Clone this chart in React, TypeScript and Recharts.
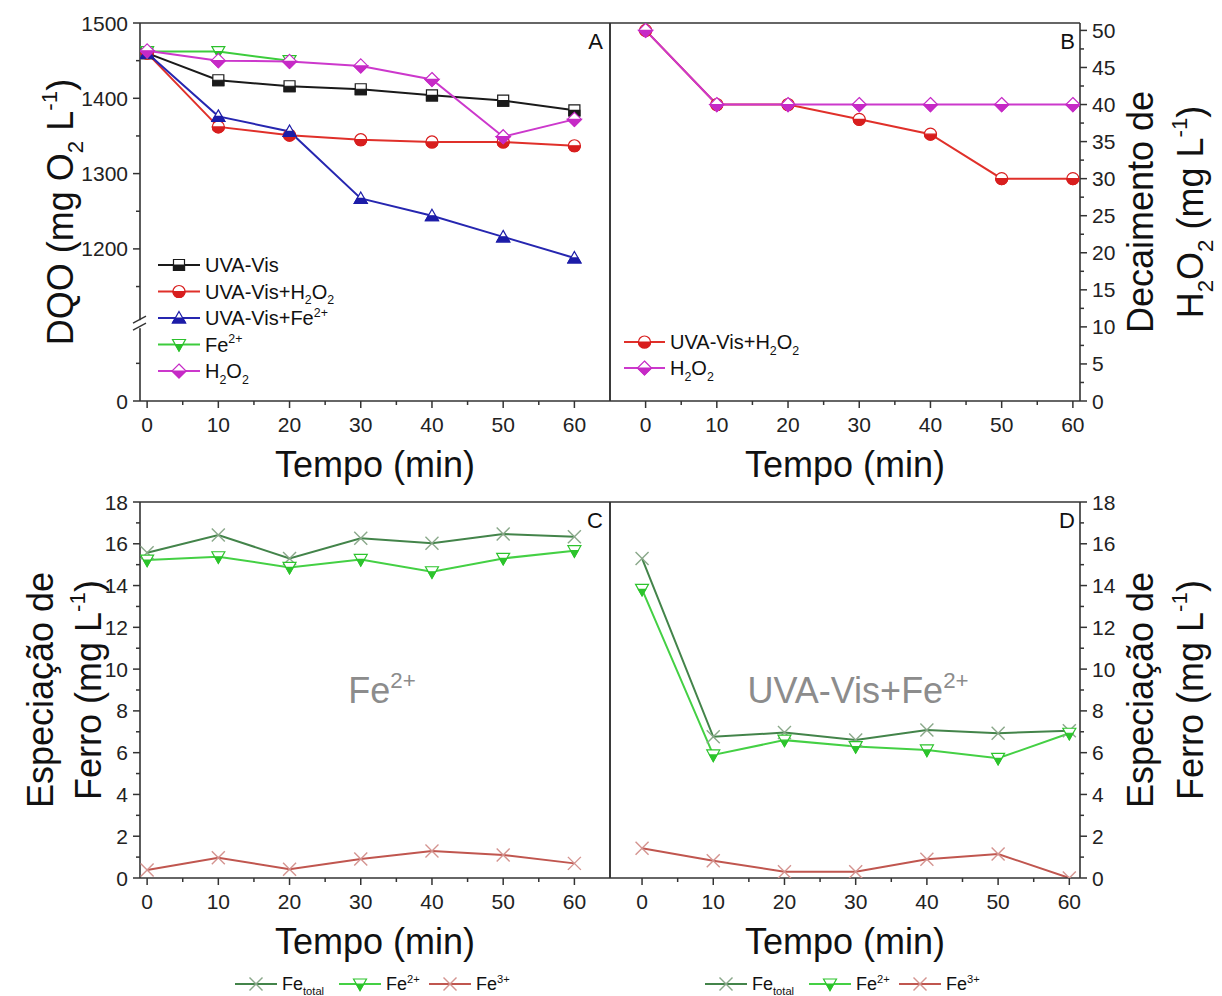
import React from "react";
import { LineChart, Line, XAxis, YAxis, ReferenceLine } from "recharts";

const FONT = "'Liberation Sans', Arial, Helvetica, sans-serif";
const INK = "#333333";

// sampling times (min)
const tempo = [0, 10, 20, 30, 40, 50, 60];

// A - DQO (mg O2 L-1)
const dqoUvaVis = [1460, 1424, 1416, 1412, 1404, 1397, 1384];
const dqoUvaVisH2O2 = [1460, 1362, 1351, 1345, 1342, 1342, 1337];
const dqoUvaVisFe = [1460, 1376, 1356, 1267, 1244, 1216, 1188];
const dqoFe = [1462, 1462, 1450, null, null, null, null];
const dqoH2O2 = [1463, 1450, 1449, 1443, 1425, 1349, 1372];

// B - H2O2 decay (mg L-1)
const h2o2UvaVis = [50, 40, 40, 38, 36, 30, 30];
const h2o2Only = [50, 40, 40, 40, 40, 40, 40];

// C - iron speciation, Fe2+ only
const cFeTotal = [15.57, 16.42, 15.3, 16.26, 16.02, 16.47, 16.34];
const cFe2 = [15.22, 15.38, 14.87, 15.25, 14.66, 15.3, 15.67];
const cFe3 = [0.38, 0.97, 0.42, 0.91, 1.29, 1.1, 0.7];

// D - iron speciation, UVA-Vis+Fe2+
const dFeTotal = [15.3, 6.76, 6.96, 6.61, 7.08, 6.93, 7.05];
const dFe2 = [13.82, 5.89, 6.6, 6.29, 6.13, 5.73, 6.93];
const dFe3 = [1.42, 0.83, 0.3, 0.3, 0.9, 1.15, 0];

// ticks
const tempoMajor = [0, 10, 20, 30, 40, 50, 60];
const tempoMinor = [5, 15, 25, 35, 45, 55];
const dqoMajor = [1200, 1300, 1400, 1500];
const dqoMinor = [1150, 1250, 1350, 1450];
// the DQO axis is broken at 1100; its bottom end is printed as "0"
const dqoBreak = 1100;
const dqoZero = 998;
const dqoLowMinor = [1048];
const h2o2Major = [0, 5, 10, 15, 20, 25, 30, 35, 40, 45, 50];
const h2o2Minor = [2.5, 7.5, 12.5, 17.5, 22.5, 27.5, 32.5, 37.5, 42.5, 47.5];
const feMajor = [0, 2, 4, 6, 8, 10, 12, 14, 16, 18];
const feMinor = [1, 3, 5, 7, 9, 11, 13, 15, 17];

type Seg = [string, ("sub" | "sup")?];
type Shape = "square" | "circle" | "triangle" | "triangleDown" | "diamond" | "cross";
type Series = { key: string; label: Seg[]; color: string; mark: string; shape: Shape; values: (number | null)[] };

const lblUvaVis: Seg[] = [["UVA-Vis"]];
const lblUvaVisH2O2: Seg[] = [["UVA-Vis+H"], ["2", "sub"], ["O"], ["2", "sub"]];
const lblUvaVisFe: Seg[] = [["UVA-Vis+Fe"], ["2+", "sup"]];
const lblFe2: Seg[] = [["Fe"], ["2+", "sup"]];
const lblH2O2: Seg[] = [["H"], ["2", "sub"], ["O"], ["2", "sub"]];
const lblFeTotal: Seg[] = [["Fe"], ["total", "sub"]];
const lblFe3: Seg[] = [["Fe"], ["3+", "sup"]];

const seriesA: Series[] = [
  { key: "uv", label: lblUvaVis, color: "#1a1a1a", mark: "#1a1a1a", shape: "square", values: dqoUvaVis },
  { key: "uvh", label: lblUvaVisH2O2, color: "#e0302a", mark: "#d81e1e", shape: "circle", values: dqoUvaVisH2O2 },
  { key: "uvf", label: lblUvaVisFe, color: "#2626b0", mark: "#1c1ca8", shape: "triangle", values: dqoUvaVisFe },
  { key: "fe", label: lblFe2, color: "#3ccc3c", mark: "#2cc02c", shape: "triangleDown", values: dqoFe },
  { key: "h", label: lblH2O2, color: "#cc38cc", mark: "#c62ac6", shape: "diamond", values: dqoH2O2 },
];

const seriesB: Series[] = [
  { key: "uvh", label: lblUvaVisH2O2, color: "#e0302a", mark: "#d81e1e", shape: "circle", values: h2o2UvaVis },
  { key: "h", label: lblH2O2, color: "#cc38cc", mark: "#c62ac6", shape: "diamond", values: h2o2Only },
];

const ironSeries = (tot: number[], fe2: number[], fe3: number[]): Series[] => [
  { key: "tot", label: lblFeTotal, color: "#43844a", mark: "#8aa88a", shape: "cross", values: tot },
  { key: "fe2", label: lblFe2, color: "#44d044", mark: "#2cc42c", shape: "triangleDown", values: fe2 },
  { key: "fe3", label: lblFe3, color: "#c0564f", mark: "#d49490", shape: "cross", values: fe3 },
];
const seriesC = ironSeries(cFeTotal, cFe2, cFe3);
const seriesD = ironSeries(dFeTotal, dFe2, dFe3);

function rich(segs: Seg[], fs: number) {
  let cur = 0;
  return segs.map(([t, k], i) => {
    const target = k === "sub" ? fs * 0.28 : k === "sup" ? -fs * 0.42 : 0;
    const dy = target - cur;
    cur = target;
    return (
      <tspan key={i} dy={dy} fontSize={k ? fs * 0.62 : fs}>
        {t}
      </tspan>
    );
  });
}

const polys: Record<string, [number, number][]> = {
  square: [[-5.5, -5.5], [5.5, -5.5], [5.5, 5.5], [-5.5, 5.5]],
  triangle: [[0, -6.5], [6.5, 5], [-6.5, 5]],
  triangleDown: [[-6.5, -5], [6.5, -5], [0, 6.5]],
  diamond: [[0, -7], [7, 0], [0, 7], [-7, 0]],
};

function lowerHalf(pts: [number, number][]) {
  const out: [number, number][] = [];
  for (let i = 0; i < pts.length; i++) {
    const a = pts[i];
    const b = pts[(i + 1) % pts.length];
    const ain = a[1] >= 0;
    const bin = b[1] >= 0;
    if (ain) out.push(a);
    if (ain !== bin) {
      const t = (0 - a[1]) / (b[1] - a[1]);
      out.push([a[0] + t * (b[0] - a[0]), 0]);
    }
  }
  return out;
}

const toPath = (pts: [number, number][], cx: number, cy: number) =>
  "M" + pts.map(([x, y]) => `${cx + x},${cy + y}`).join("L") + "Z";

function Marker({ cx, cy, shape, color }: { cx?: number; cy?: number; shape: Shape; color: string }) {
  if (cx == null || cy == null || isNaN(cx) || isNaN(cy)) return <g />;
  if (shape === "cross") {
    const s = 6.5;
    return (
      <g stroke={color} strokeWidth={1.4}>
        <line x1={cx - s} y1={cy - s} x2={cx + s} y2={cy + s} />
        <line x1={cx - s} y1={cy + s} x2={cx + s} y2={cy - s} />
      </g>
    );
  }
  if (shape === "circle") {
    const r = 6;
    return (
      <g>
        <circle cx={cx} cy={cy} r={r} fill="#fff" stroke={color} strokeWidth={1.2} />
        <path d={`M${cx - r},${cy}A${r},${r} 0 0,0 ${cx + r},${cy}Z`} fill={color} stroke={color} strokeWidth={1.2} />
      </g>
    );
  }
  const pts = polys[shape];
  return (
    <g>
      <path d={toPath(pts, cx, cy)} fill="#fff" stroke={color} strokeWidth={1.2} />
      <path d={toPath(lowerHalf(pts), cx, cy)} fill={color} stroke={color} strokeWidth={1.2} />
    </g>
  );
}

function makeTick(orient: "bottom" | "left" | "right", majors: number[], label: (v: number) => string = String) {
  return (props: any) => {
    const { x, y, payload, index } = props;
    const v = payload.value;
    const major = majors.includes(v);
    const len = major ? 7 : 4;
    const txt = { fontSize: 21, fill: "#222", fontFamily: FONT } as const;
    if (orient === "bottom") {
      return (
        <g key={`b${index}`}>
          <line x1={x} x2={x} y1={y} y2={y + len} stroke={INK} strokeWidth={1.5} />
          {major && (
            <text x={x} y={y + 31} textAnchor="middle" {...txt}>
              {label(v)}
            </text>
          )}
        </g>
      );
    }
    const dir = orient === "left" ? -1 : 1;
    return (
      <g key={`y${index}`}>
        <line x1={x} x2={x + dir * len} y1={y} y2={y} stroke={INK} strokeWidth={1.5} />
        {major && (
          <text x={x + dir * 12} y={y + 7.5} textAnchor={orient === "left" ? "end" : "start"} {...txt}>
            {label(v)}
          </text>
        )}
      </g>
    );
  };
}

const xTick = makeTick("bottom", tempoMajor);

type PanelProps = {
  left: number;
  top: number;
  width: number;
  height: number;
  margin: { top: number; right: number; bottom: number; left: number };
  xDomain: [number, number];
  yDomain: [number, number];
  yTicks: number[];
  yMajor: number[];
  yLabel?: (v: number) => string;
  yOrient: "left" | "right";
  yWidth: number;
  xHeight: number;
  series: Series[];
};

function Panel(p: PanelProps) {
  const rows = tempo.map((t, i) => {
    const r: Record<string, number | null> = { t };
    p.series.forEach((s) => (r[s.key] = s.values[i]));
    return r;
  });
  const axisLine = { stroke: INK, strokeWidth: 1.6 };
  const borderX = p.yOrient === "left" ? p.xDomain[1] : p.xDomain[0];
  return (
    <div style={{ position: "absolute", left: p.left, top: p.top }}>
      <LineChart width={p.width} height={p.height} data={rows} margin={p.margin}>
        <XAxis
          dataKey="t"
          type="number"
          domain={p.xDomain}
          allowDataOverflow
          ticks={[...tempoMajor, ...tempoMinor]}
          interval={0}
          tickSize={0}
          tickMargin={0}
          tickLine={false}
          axisLine={axisLine}
          tick={xTick}
          height={p.xHeight}
        />
        <YAxis
          type="number"
          orientation={p.yOrient}
          domain={p.yDomain}
          allowDataOverflow
          ticks={p.yTicks}
          interval={0}
          tickSize={0}
          tickMargin={0}
          tickLine={false}
          axisLine={axisLine}
          tick={makeTick(p.yOrient, p.yMajor, p.yLabel)}
          width={p.yWidth}
        />
        <ReferenceLine y={p.yDomain[1]} stroke={INK} strokeWidth={1.6} ifOverflow="visible" />
        <ReferenceLine x={borderX} stroke={INK} strokeWidth={1.6} ifOverflow="visible" />
        {p.series.map((s) => (
          <Line
            key={s.key}
            type="linear"
            dataKey={s.key}
            stroke={s.color}
            strokeWidth={2}
            dot={(d: any) => <Marker key={`${s.key}-${d.index}`} cx={d.cx} cy={d.cy} shape={s.shape} color={s.mark} />}
            activeDot={false}
            connectNulls={false}
            isAnimationActive={false}
          />
        ))}
      </LineChart>
    </div>
  );
}

function LegendRow({ s, x0, y, lineLen, fs }: { s: Series; x0: number; y: number; lineLen: number; fs: number }) {
  return (
    <g>
      <line x1={x0} x2={x0 + lineLen} y1={y} y2={y} stroke={s.color} strokeWidth={2} />
      <Marker cx={x0 + lineLen / 2} cy={y} shape={s.shape} color={s.mark} />
      <text x={x0 + lineLen + 5} y={y + fs * 0.35} fontSize={fs} fill="#111">
        {rich(s.label, fs)}
      </text>
    </g>
  );
}

function VTitle({ x, y, segs, fs = 36 }: { x: number; y: number; segs: Seg[]; fs?: number }) {
  return (
    <text transform={`translate(${x},${y}) rotate(-90)`} y={fs * 0.35} textAnchor="middle" fontSize={fs} fill="#111">
      {rich(segs, fs)}
    </text>
  );
}

const titleDQO: Seg[] = [["DQO (mg O"], ["2", "sub"], [" L"], ["-1", "sup"], [")"]];
const titleDec: Seg[] = [["Decaimento de"]];
const titleH2O2: Seg[] = [["H"], ["2", "sub"], ["O"], ["2", "sub"], [" (mg L"], ["-1", "sup"], [")"]];
const titleEsp: Seg[] = [["Especiação de"]];
const titleFerro: Seg[] = [["Ferro (mg L"], ["-1", "sup"], [")"]];

function Overlay() {
  const plotTopA = 23;
  const plotBottomA = 401;
  const yBreak = plotTopA + ((1500 - dqoBreak) / (1500 - dqoZero)) * (plotBottomA - plotTopA);
  const bottomXs = [0, 104, 194];
  return (
    <svg
      width={1222}
      height={996}
      style={{ position: "absolute", left: 0, top: 0, pointerEvents: "none" }}
      fontFamily={FONT}
    >
      {/* axis break on the DQO axis */}
      <rect x={134} y={yBreak - 4} width={12} height={8} fill="#fff" />
      <line x1={133} y1={yBreak - 1} x2={146} y2={yBreak - 8} stroke={INK} strokeWidth={1.4} />
      <line x1={133} y1={yBreak + 6} x2={146} y2={yBreak - 1} stroke={INK} strokeWidth={1.4} />

      {[
        [375, 477],
        [845, 477],
        [375, 954],
        [845, 954],
      ].map(([x, y], i) => (
        <text key={i} x={x} y={y} textAnchor="middle" fontSize={36} fill="#111">
          Tempo (min)
        </text>
      ))}

      <VTitle x={60} y={212} segs={titleDQO} />
      <VTitle x={1140} y={212} segs={titleDec} />
      <VTitle x={1190} y={212} segs={titleH2O2} />
      <VTitle x={40} y={690} segs={titleEsp} />
      <VTitle x={88} y={690} segs={titleFerro} />
      <VTitle x={1140} y={690} segs={titleEsp} />
      <VTitle x={1190} y={690} segs={titleFerro} />

      {[
        ["A", 603, 49],
        ["B", 1075, 49],
        ["C", 603, 528],
        ["D", 1075, 528],
      ].map(([t, x, y]) => (
        <text key={t as string} x={x as number} y={y as number} textAnchor="end" fontSize={22} fill="#111">
          {t}
        </text>
      ))}

      <text x={382} y={703} textAnchor="middle" fontSize={36} fill="#8c8c8c">
        {rich(lblFe2, 36)}
      </text>
      <text x={858} y={703} textAnchor="middle" fontSize={36} fill="#8c8c8c">
        {rich(lblUvaVisFe, 36)}
      </text>

      {seriesA.map((s, i) => (
        <LegendRow key={s.key} s={s} x0={158} y={265 + i * 26.5} lineLen={42} fs={20} />
      ))}
      {seriesB.map((s, i) => (
        <LegendRow key={s.key} s={s} x0={624} y={342 + i * 26} lineLen={41} fs={20} />
      ))}
      {seriesC.map((s, i) => (
        <LegendRow key={s.key} s={s} x0={235 + bottomXs[i]} y={984} lineLen={42} fs={18} />
      ))}
      {seriesD.map((s, i) => (
        <LegendRow key={s.key} s={s} x0={705 + bottomXs[i]} y={984} lineLen={42} fs={18} />
      ))}
    </svg>
  );
}

export default function App() {
  return (
    <div style={{ position: "absolute", left: 0, top: 0, width: 1222, height: 996, background: "#fff", fontFamily: FONT }}>
      <Panel
        left={0}
        top={0}
        width={620}
        height={480}
        margin={{ top: 23, right: 10, bottom: 0, left: 0 }}
        xDomain={[-1, 65]}
        yDomain={[dqoZero, 1500]}
        yTicks={[dqoZero, ...dqoLowMinor, ...dqoMinor, ...dqoMajor]}
        yMajor={[dqoZero, ...dqoMajor]}
        yLabel={(v) => (v === dqoZero ? "0" : String(v))}
        yOrient="left"
        yWidth={140}
        xHeight={79}
        series={seriesA}
      />
      <Panel
        left={600}
        top={0}
        width={622}
        height={480}
        margin={{ top: 23, right: 0, bottom: 0, left: 10 }}
        xDomain={[-5, 61]}
        yDomain={[0, 51]}
        yTicks={[...h2o2Major, ...h2o2Minor]}
        yMajor={h2o2Major}
        yOrient="right"
        yWidth={142}
        xHeight={79}
        series={seriesB}
      />
      <Panel
        left={0}
        top={480}
        width={620}
        height={480}
        margin={{ top: 22, right: 10, bottom: 0, left: 0 }}
        xDomain={[-1, 65]}
        yDomain={[0, 18]}
        yTicks={[...feMajor, ...feMinor]}
        yMajor={feMajor}
        yOrient="left"
        yWidth={140}
        xHeight={82}
        series={seriesC}
      />
      <Panel
        left={600}
        top={480}
        width={622}
        height={480}
        margin={{ top: 22, right: 0, bottom: 0, left: 10 }}
        xDomain={[-4.5, 61.5]}
        yDomain={[0, 18]}
        yTicks={[...feMajor, ...feMinor]}
        yMajor={feMajor}
        yOrient="right"
        yWidth={142}
        xHeight={82}
        series={seriesD}
      />
      <Overlay />
    </div>
  );
}
